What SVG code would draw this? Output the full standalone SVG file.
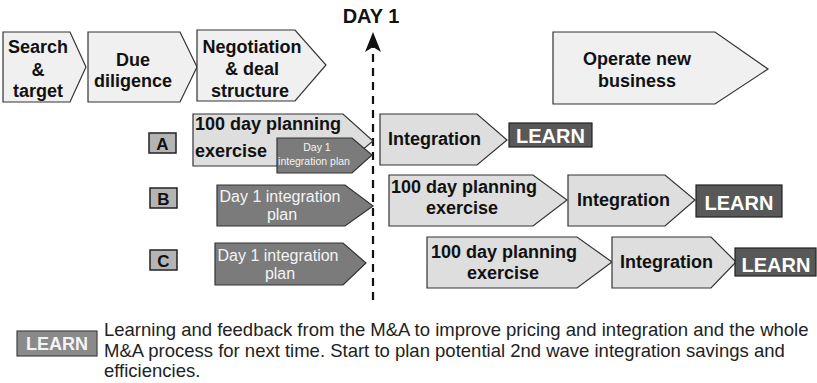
<svg xmlns="http://www.w3.org/2000/svg" width="817" height="383" viewBox="0 0 817 383">
<style>
  text { font-family: "Liberation Sans", Arial, Helvetica, sans-serif; }
  .top { fill: #f0f0f0; stroke: #333; stroke-width: 1.2; }
  .step { fill: #dedede; stroke: #333; stroke-width: 1.2; }
  .plan { fill: #7b7b7b; stroke: #333; stroke-width: 1.2; }
  .learn { fill: #585858; stroke: #222; stroke-width: 1.2; }
  .lbl { fill: #b4b4b4; stroke: #222; stroke-width: 1.5; }
  .b { font-weight: bold; fill: #111; font-size: 18px; }
  .bc { font-weight: bold; fill: #111; font-size: 18px; text-anchor: middle; }
  .w { fill: #f4f4f4; text-anchor: middle; }
  .lt { font-weight: bold; fill: #fff; font-size: 20px; text-anchor: middle; }
  .leg { fill: #222; font-size: 18.5px; }
</style>

<g id="connectors">
  <line x1="373" y1="300" x2="373" y2="44" stroke="#111" stroke-width="2.2" stroke-dasharray="8,6"/>
  <path d="M373,32 L365,52 L373,47 L381,52 Z" fill="#111"/>
</g>

<g id="day1">
  <text x="371" y="23" class="bc" style="font-size:20px">DAY 1</text>
</g>

<g id="search">
  <polygon class="top" points="3,32 70,32 86,67 70,102 3,102"/>
  <text x="38" y="53" class="bc">Search</text>
  <text x="38" y="76" class="bc">&amp;</text>
  <text x="38" y="97" class="bc">target</text>
</g>
<g id="due">
  <polygon class="top" points="88,32 180,32 197,67 180,102 88,102"/>
  <text x="133" y="66" class="bc">Due</text>
  <text x="133" y="87" class="bc">diligence</text>
</g>
<g id="negotiation">
  <polygon class="top" points="197,30 295,30 326,65 295,101 197,101"/>
  <text x="252" y="53" class="bc">Negotiation</text>
  <text x="252" y="75" class="bc">&amp; deal</text>
  <text x="250" y="97" class="bc">structure</text>
</g>
<g id="operate">
  <polygon class="top" points="553,32 715,32 768,69 715,104 553,104"/>
  <text x="637" y="65" class="bc">Operate new</text>
  <text x="637" y="87" class="bc">business</text>
</g>

<g id="labelA">
  <rect class="lbl" x="149" y="133" width="27" height="20"/>
  <text x="162.5" y="149.5" class="bc" style="font-size:17px">A</text>
</g>
<g id="labelB">
  <rect class="lbl" x="150" y="188" width="27" height="20"/>
  <text x="163.5" y="204.5" class="bc" style="font-size:17px">B</text>
</g>
<g id="labelC">
  <rect class="lbl" x="150" y="250" width="27" height="20"/>
  <text x="163.5" y="266.5" class="bc" style="font-size:17px">C</text>
</g>

<g id="a-plan100">
  <polygon class="step" points="193,114 343,114 373,141 343,166 193,166"/>
  <text x="195" y="130" class="b">100 day planning</text>
  <text x="195" y="157" class="b">exercise</text>
</g>
<g id="a-day1">
  <polygon class="plan" points="277,138 352,138 372,155 352,173 277,173"/>
  <text x="317" y="151" class="w" font-size="10.5">Day 1</text>
  <text x="314" y="165" class="w" font-size="10.5">integration plan</text>
</g>
<g id="a-integration">
  <polygon class="step" points="380,114 477,114 507,140 477,165 380,165"/>
  <text x="388" y="145" class="b">Integration</text>
</g>
<g id="a-learn">
  <rect class="learn" x="509" y="123" width="83" height="24"/>
  <text x="550.5" y="143" class="lt">LEARN</text>
</g>

<g id="b-day1">
  <polygon class="plan" points="217,185 345,185 373,206 345,226 217,226"/>
  <text x="280" y="202" class="w" font-size="16">Day 1 integration</text>
  <text x="282" y="220" class="w" font-size="16">plan</text>
</g>
<g id="b-plan100">
  <polygon class="step" points="389,175 533,175 567,200 533,226 389,226"/>
  <text x="391" y="193" class="b">100 day planning</text>
  <text x="462" y="214" class="bc">exercise</text>
</g>
<g id="b-integration">
  <polygon class="step" points="568,175 665,175 695,200 665,226 568,226"/>
  <text x="577" y="206" class="b">Integration</text>
</g>
<g id="b-learn">
  <rect class="learn" x="696" y="185" width="86" height="32"/>
  <text x="739" y="210" class="lt">LEARN</text>
</g>

<g id="c-day1">
  <polygon class="plan" points="215,243 343,243 366,263 343,285 215,285"/>
  <text x="278" y="261" class="w" font-size="16">Day 1 integration</text>
  <text x="280" y="279" class="w" font-size="16">plan</text>
</g>
<g id="c-plan100">
  <polygon class="step" points="427,237 577,237 612,262 577,288 427,288"/>
  <text x="431" y="258" class="b">100 day planning</text>
  <text x="503" y="279" class="bc">exercise</text>
</g>
<g id="c-integration">
  <polygon class="step" points="612,237 711,237 736,262 711,288 612,288"/>
  <text x="620" y="268" class="b">Integration</text>
</g>
<g id="c-learn">
  <rect class="learn" x="735" y="248" width="81" height="28"/>
  <text x="776" y="272" class="lt">LEARN</text>
</g>

<g id="legend">
  <rect x="17" y="331" width="80" height="25" fill="#8a8a8a" stroke="#444" stroke-width="1.2"/>
  <text x="57" y="350" class="w" font-size="18" font-weight="bold">LEARN</text>
  <text x="104" y="336" class="leg">Learning and feedback from the M&amp;A to improve pricing and integration and the whole</text>
  <text x="104" y="357" class="leg">M&amp;A process for next time. Start to plan potential 2nd wave integration savings and</text>
  <text x="104" y="377" class="leg">efficiencies.</text>
</g>
</svg>
